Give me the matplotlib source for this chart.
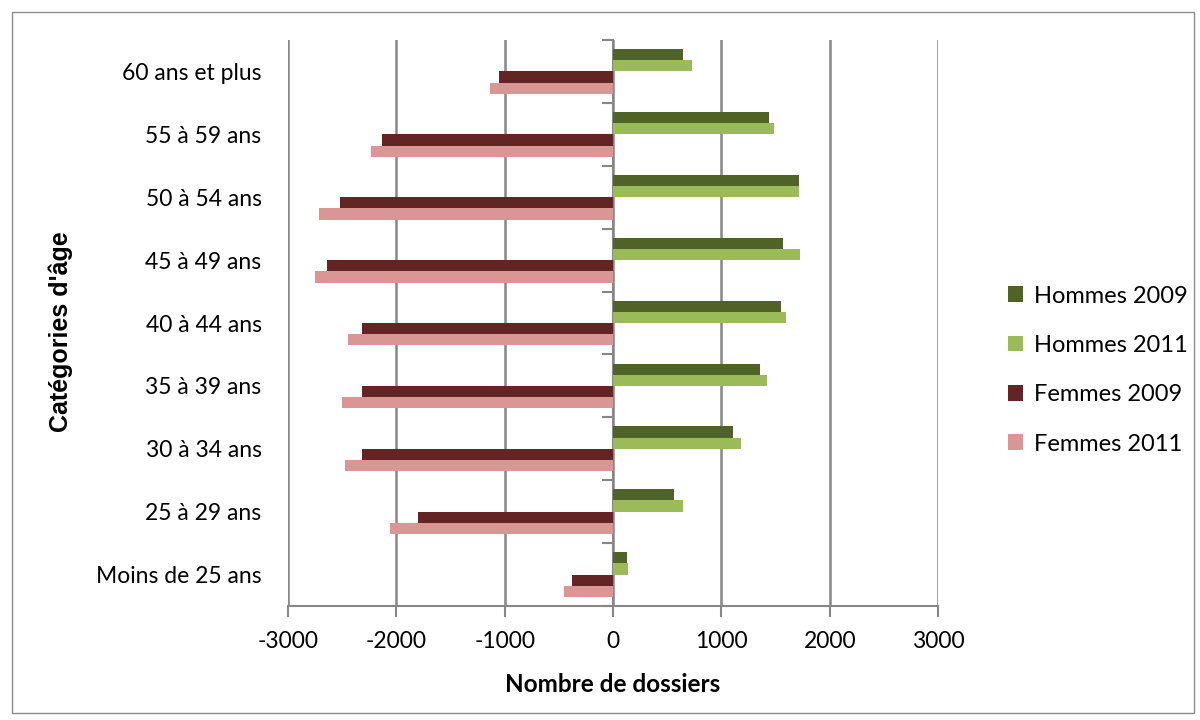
import matplotlib.pyplot as plt
import numpy as np
from matplotlib.patches import Rectangle

# tranches d'âge, du bas vers le haut
categories = ["Moins de 25 ans", "25 à 29 ans", "30 à 34 ans", "35 à 39 ans",
              "40 à 44 ans", "45 à 49 ans", "50 à 54 ans", "55 à 59 ans",
              "60 ans et plus"]

hommes_2009 = [126, 559, 1112, 1361, 1555, 1573, 1721, 1444, 642]
hommes_2011 = [135, 642, 1177, 1425, 1601, 1730, 1721, 1490, 725]
femmes_2009 = [-381, -1800, -2316, -2316, -2316, -2639, -2519, -2132, -1054]
femmes_2011 = [-455, -2058, -2473, -2501, -2445, -2750, -2713, -2233, -1137]

series = [("Hommes 2009", hommes_2009, "#4F6228"),
          ("Hommes 2011", hommes_2011, "#9BBB59"),
          ("Femmes 2009", femmes_2009, "#632523"),
          ("Femmes 2011", femmes_2011, "#D99694")]

x_ticks = [-3000, -2000, -1000, 0, 1000, 2000, 3000]

plt.rcParams['font.family'] = ['Lato', 'DejaVu Sans']
grey = "#878787"

fig = plt.figure(figsize=(12, 7.2), dpi=100)
ax = fig.add_axes([0.24, 0.1583, 0.5417, 0.7861])

h = 0.178
y = np.arange(len(categories)) + 0.5
offsets = [1.5, 0.5, -0.5, -1.5]
for (name, vals, col), off in zip(series, offsets):
    ax.barh(y + off * h, vals, height=h, color=col, label=name, zorder=3)

ax.set_xlim(-3000, 3000)
ax.set_ylim(0, len(categories))
ax.set_xticks(x_ticks)
ax.set_xticklabels([str(v) for v in x_ticks], fontsize=16.5)
ax.set_yticks(y)
ax.set_yticklabels(categories, fontsize=16.5)
ax.tick_params(axis='y', length=0, pad=19)
ax.tick_params(axis='x', length=8, width=1.5, color=grey, pad=10)

for s in ['top', 'right', 'left']:
    ax.spines[s].set_visible(False)
ax.spines['bottom'].set_color(grey)
ax.spines['bottom'].set_linewidth(1.5)

ax.xaxis.grid(True, color=grey, linewidth=1.8, zorder=0)
ax.set_axisbelow(True)

# axe vertical en x = 0 avec graduations entre catégories
sec = ax.secondary_yaxis(0.5)
sec.set_yticks(np.arange(len(categories) + 1))
sec.set_yticklabels([])
sec.yaxis.set_ticks_position('left')
sec.tick_params(axis='y', length=8, width=1.5, color=grey, direction='out')
for s in ['left', 'right']:
    sec.spines[s].set_color(grey)
    sec.spines[s].set_linewidth(1.5)

ax.set_xlabel("Nombre de dossiers", fontsize=17.5, fontweight='bold', labelpad=15)
fig.text(0.051, 0.54, "Catégories d'âge", rotation=90, fontsize=18,
         fontweight='bold', family=['Liberation Sans'], ha='center', va='center')

leg = ax.legend(loc='center left', bbox_to_anchor=(1.075, 0.417), frameon=False,
                fontsize=17, handlelength=0.65, handleheight=0.65,
                handletextpad=0.45, labelspacing=1.2)

fig.patches.append(Rectangle((0.01, 0.01), 0.985, 0.973, transform=fig.transFigure,
                             fill=False, edgecolor="#8c8c8c", linewidth=1))

fig.savefig("out.png", dpi=100)
